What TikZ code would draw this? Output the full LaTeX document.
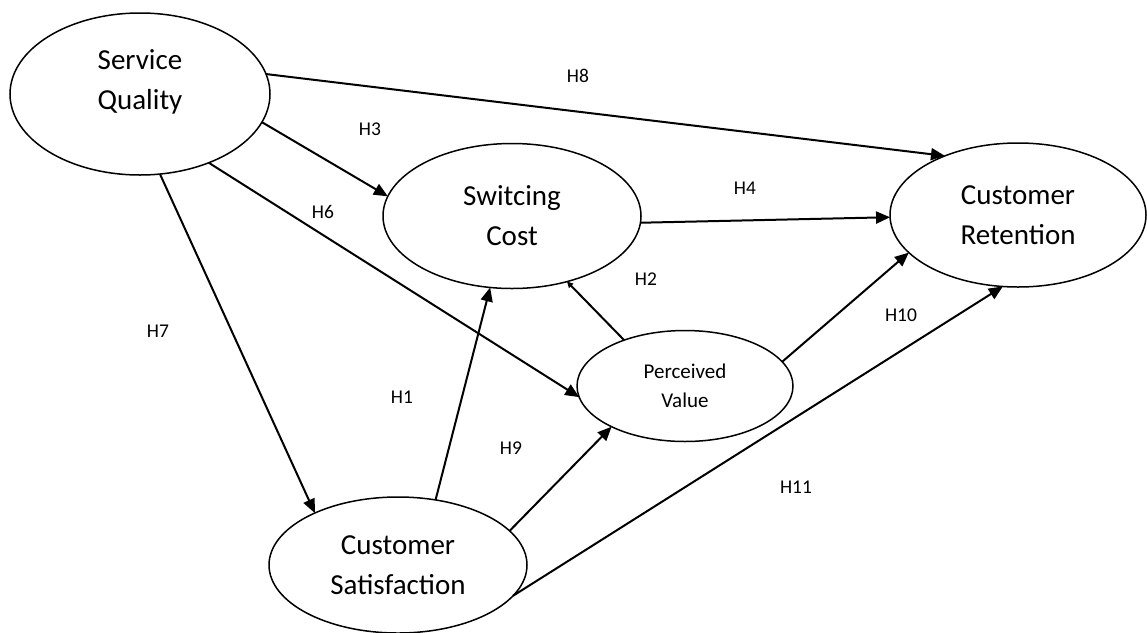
\documentclass[tikz,border=0pt]{standalone}
\usepackage{fontspec}
\setmainfont{Carlito}
\usetikzlibrary{arrows.meta,shapes.geometric}
\tikzset{
  construct/.style={ellipse,draw,line width=1.5pt,outer sep=0pt,inner sep=0pt},
  bigtext/.style={align=center,font=\fontsize{29}{40}\selectfont},
  smalltext/.style={align=center,font=\fontsize{21}{29}\selectfont},
  hyp/.style={font=\fontsize{19.5}{22}\selectfont,inner sep=0pt},
  path/.style={line width=2pt,-{Triangle[length=14pt,width=12pt]}},
  smallpath/.style={line width=2pt,-{Triangle[length=6pt,width=6pt]}}
}
\begin{document}
\begin{tikzpicture}[x=1pt,y=-1pt]
\useasboundingbox (0,0) rectangle (1147,632);
% constructs
\node[construct,minimum width=260pt,minimum height=162pt] (sq) at (140,94) {};
\node[bigtext] (sqt) at (140,82) {Service\\Quality};
\node[construct,bigtext,minimum width=258pt,minimum height=145pt] (sc) at (512,216) {Switcing\\Cost};
\node[construct,bigtext,minimum width=256pt,minimum height=144pt] (cr) at (1018,215) {Customer\\Retention};
\node[construct,smalltext,minimum width=216pt,minimum height=111pt] (pv) at (685,386) {Perceived\\Value};
\node[construct,bigtext,minimum width=258pt,minimum height=136pt] (cs) at (398,565) {Customer\\Satisfaction};
% connectors
\draw[path] (sq.9.3) -- (cr.141.7);
\draw[path] (sq.-13.6) -- (sc.171.2);
\draw[path] (sq.-45.8) -- (pv.186.3);
\draw[path] (sq.-76.6) -- (cs.148.5);
\draw[path] (sc.-3.1) -- (cr.181);
\draw[smallpath] (pv.143.4) -- (sc.-50.9);
\draw[path] (pv.14.9) -- (cr.199.6);
\draw[path] (cs.60.4) -- (sc.-107);
\draw[path] (cs.17.1) -- (pv.209.4);
\draw[path] (cs.-15.5) -- (cr.-102.1);
% labels
\node[hyp] (h8) at (578,76) {H8};
\node[hyp] (h3) at (370,129) {H3};
\node[hyp] (h4) at (745,188) {H4};
\node[hyp] (h6) at (323,212) {H6};
\node[hyp] (h2) at (646,279) {H2};
\node[hyp] (h10) at (901,315) {H10};
\node[hyp] (h7) at (158,331) {H7};
\node[hyp] (h1) at (402,397) {H1};
\node[hyp] (h9) at (511,448) {H9};
\node[hyp] (h11) at (796,487) {H11};
\end{tikzpicture}
\end{document}
